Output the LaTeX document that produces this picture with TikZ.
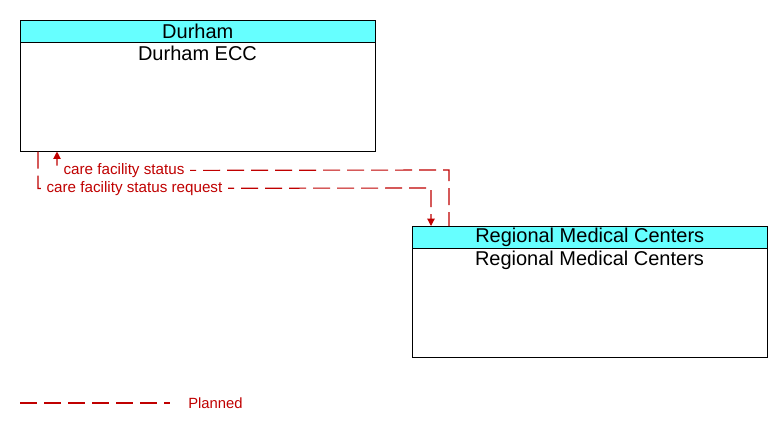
\documentclass[tikz,border=0pt]{standalone}
\usepackage{fontspec}
\setmainfont{Liberation Sans}
\usetikzlibrary{arrows.meta,calc}
\definecolor{flowred}{RGB}{192,0,0}
\definecolor{headcyan}{RGB}{102,255,255}
\tikzset{
  hdr/.style={draw=black, fill=headcyan, anchor=north west, minimum width=266.25pt, minimum height=16.5pt, inner sep=0pt, font=\fontsize{15}{17}\selectfont},
  bodybox/.style={draw=black, fill=white, anchor=north west, minimum width=266.25pt, minimum height=81.75pt, inner sep=0pt},
  bodytext/.style={font=\fontsize{15}{17}\selectfont, inner sep=0pt},
  flow/.style={draw=flowred, line width=0.85pt, dash pattern=on 12.75pt off 5.25pt},
  flowlabel/.style={text=flowred, font=\fontsize{11.4}{13}\selectfont, fill=white, inner ysep=1pt, inner xsep=4pt, anchor=west},
  tip/.style={-{Triangle[width=5.5pt,length=5.5pt]}}
}
\begin{document}
\begin{tikzpicture}[x=0.75pt,y=-0.75pt]
\useasboundingbox[fill=white] (0,0) rectangle (782,429);
% Durham box
\node[bodybox] (ecc) at (20,42) {};
\node[hdr] (ecchdr) at (20,20) {Durham};
\node[bodytext] (ecctxt) at (197.5,53) {Durham ECC};
% Regional box
\node[bodybox] (rmc) at (412,248) {};
\node[hdr] (rmchdr) at (412,226) {Regional Medical Centers};
\node[bodytext] (rmctxt) at (589.5,260) {Regional Medical Centers};
% connector 1: care facility status (Regional -> Durham)
\coordinate (c1a) at ($(ecc.south west)+(37,19)$);
\coordinate (c1b) at ($(rmchdr.north west)+(37,-56)$);
\draw[flow,tip,dash phase=2.25pt] ($(rmchdr.north west)+(37,0)$) -- (c1b) -- (c1a) -- ($(ecc.south west)+(37,0)$);
\node[flowlabel] (l1) at ($(ecc.south west)+(38,19)$) {care facility status};
% connector 2: care facility status request (Durham -> Regional)
\coordinate (c2a) at ($(ecc.south west)+(18,37)$);
\coordinate (c2b) at ($(rmchdr.north west)+(19,-38)$);
\draw[flow,tip] ($(ecc.south west)+(18,0)$) -- (c2a) -- (c2b) -- ($(rmchdr.north west)+(19,0)$);
\node[flowlabel] (l2) at ($(ecc.south west)+(21,37)$) {care facility status request};
% legend
\coordinate (lg1) at (20,403);
\coordinate (lg2) at (170,403);
\draw[flow] (lg1) -- (lg2);
\node[text=flowred, font=\fontsize{11.1}{13}\selectfont, anchor=west, inner sep=0pt] (lgt) at (188,403) {Planned};
\end{tikzpicture}
\end{document}
